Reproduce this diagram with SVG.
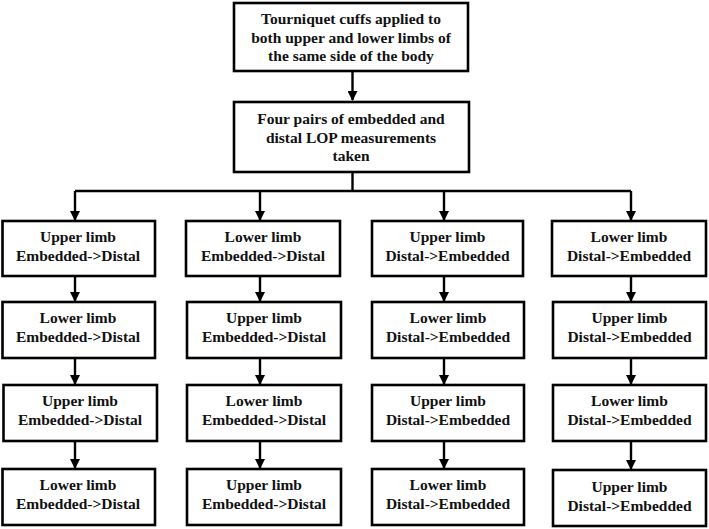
<svg xmlns="http://www.w3.org/2000/svg" width="709" height="529" viewBox="0 0 709 529">
<defs>
<marker id="ah" markerWidth="10" markerHeight="10" refX="9" refY="5" orient="auto" markerUnits="userSpaceOnUse">
<path d="M0,0 L10,5 L0,10 Z" fill="#000"/>
</marker>
<style>
.box{fill:#fff;stroke:#000;stroke-width:2.6}
.c{fill:none;stroke:#000;stroke-width:2.4}
</style>
</defs>
<rect width="709" height="529" fill="#fff"/>
<g id="connectors">
<path class="c" d="M352.5,71 V100" marker-end="url(#ah)"/>
<path class="c" d="M352.5,172 V191"/>
<path class="c" d="M75,191 H631"/>
<path class="c" d="M75,191 V220" marker-end="url(#ah)"/>
<path class="c" d="M260,191 V220" marker-end="url(#ah)"/>
<path class="c" d="M444,191 V220" marker-end="url(#ah)"/>
<path class="c" d="M631,191 V220" marker-end="url(#ah)"/>
<path class="c" d="M75,276 V301" marker-end="url(#ah)"/>
<path class="c" d="M260,276 V301" marker-end="url(#ah)"/>
<path class="c" d="M444,276 V301" marker-end="url(#ah)"/>
<path class="c" d="M631,276 V301" marker-end="url(#ah)"/>
<path class="c" d="M75,358 V384" marker-end="url(#ah)"/>
<path class="c" d="M260,358 V384" marker-end="url(#ah)"/>
<path class="c" d="M444,358 V384" marker-end="url(#ah)"/>
<path class="c" d="M631,358 V384" marker-end="url(#ah)"/>
<path class="c" d="M75,441 V468" marker-end="url(#ah)"/>
<path class="c" d="M260,441 V468" marker-end="url(#ah)"/>
<path class="c" d="M444,441 V468" marker-end="url(#ah)"/>
<path class="c" d="M631,441 V469" marker-end="url(#ah)"/>
</g>
<g font-weight="bold" font-size="15.5" text-anchor="middle" fill="#111">
<g id="n-top">
<rect class="box" x="234" y="3" width="234" height="68"/>
<text font-family="Liberation Serif" x="351" y="24">Tourniquet cuffs applied to</text>
<text font-family="Liberation Serif" x="351" y="42.5">both upper and lower limbs of</text>
<text font-family="Liberation Serif" x="351" y="61">the same side of the body</text>
</g>
<g id="n-four">
<rect class="box" x="234" y="102" width="235" height="70"/>
<text font-family="Liberation Serif" x="351" y="124">Four pairs of embedded and</text>
<text font-family="Liberation Serif" x="351" y="142.5">distal LOP measurements</text>
<text font-family="Liberation Serif" x="351" y="161">taken</text>
</g>
<g id="c1r1"><rect class="box" x="2.5" y="221" width="152.5" height="55"/><text font-family="Liberation Serif" x="78" y="242">Upper limb</text><text font-family="Liberation Serif" x="78" y="260.5">Embedded-&gt;Distal</text></g>
<g id="c1r2"><rect class="box" x="2.5" y="302" width="152.5" height="56"/><text font-family="Liberation Serif" x="78" y="323">Lower limb</text><text font-family="Liberation Serif" x="78" y="342">Embedded-&gt;Distal</text></g>
<g id="c1r3"><rect class="box" x="3.5" y="385" width="153.5" height="56"/><text font-family="Liberation Serif" x="80" y="406">Upper limb</text><text font-family="Liberation Serif" x="80" y="425">Embedded-&gt;Distal</text></g>
<g id="c1r4"><rect class="box" x="2.5" y="469" width="152.5" height="56"/><text font-family="Liberation Serif" x="78" y="490">Lower limb</text><text font-family="Liberation Serif" x="78" y="509">Embedded-&gt;Distal</text></g>
<g id="c2r1"><rect class="box" x="186" y="221" width="154" height="55"/><text font-family="Liberation Serif" x="263" y="242">Lower limb</text><text font-family="Liberation Serif" x="263" y="260.5">Embedded-&gt;Distal</text></g>
<g id="c2r2"><rect class="box" x="187" y="302" width="154" height="56"/><text font-family="Liberation Serif" x="264" y="323">Upper limb</text><text font-family="Liberation Serif" x="264" y="342">Embedded-&gt;Distal</text></g>
<g id="c2r3"><rect class="box" x="187" y="385" width="154" height="56"/><text font-family="Liberation Serif" x="264" y="406">Lower limb</text><text font-family="Liberation Serif" x="264" y="425">Embedded-&gt;Distal</text></g>
<g id="c2r4"><rect class="box" x="187" y="469" width="154" height="56"/><text font-family="Liberation Serif" x="264" y="490">Upper limb</text><text font-family="Liberation Serif" x="264" y="509">Embedded-&gt;Distal</text></g>
<g id="c3r1"><rect class="box" x="372" y="221" width="151" height="55"/><text font-family="Liberation Serif" x="447.5" y="242">Upper limb</text><text font-family="Liberation Serif" x="447.5" y="260.5">Distal-&gt;Embedded</text></g>
<g id="c3r2"><rect class="box" x="372" y="302" width="152" height="56"/><text font-family="Liberation Serif" x="448" y="323">Lower limb</text><text font-family="Liberation Serif" x="448" y="342">Distal-&gt;Embedded</text></g>
<g id="c3r3"><rect class="box" x="372" y="385" width="152" height="56"/><text font-family="Liberation Serif" x="448" y="406">Upper limb</text><text font-family="Liberation Serif" x="448" y="425">Distal-&gt;Embedded</text></g>
<g id="c3r4"><rect class="box" x="372" y="469" width="152" height="56"/><text font-family="Liberation Serif" x="448" y="490">Lower limb</text><text font-family="Liberation Serif" x="448" y="509">Distal-&gt;Embedded</text></g>
<g id="c4r1"><rect class="box" x="552" y="221" width="154" height="55"/><text font-family="Liberation Serif" x="629" y="242">Lower limb</text><text font-family="Liberation Serif" x="629" y="260.5">Distal-&gt;Embedded</text></g>
<g id="c4r2"><rect class="box" x="553" y="302" width="153" height="56"/><text font-family="Liberation Serif" x="629.5" y="323">Upper limb</text><text font-family="Liberation Serif" x="629.5" y="342">Distal-&gt;Embedded</text></g>
<g id="c4r3"><rect class="box" x="553" y="385" width="153" height="56"/><text font-family="Liberation Serif" x="629.5" y="406">Lower limb</text><text font-family="Liberation Serif" x="629.5" y="425">Distal-&gt;Embedded</text></g>
<g id="c4r4"><rect class="box" x="553" y="470" width="153" height="56"/><text font-family="Liberation Serif" x="629.5" y="492">Upper limb</text><text font-family="Liberation Serif" x="629.5" y="511">Distal-&gt;Embedded</text></g>
</g>
</svg>
